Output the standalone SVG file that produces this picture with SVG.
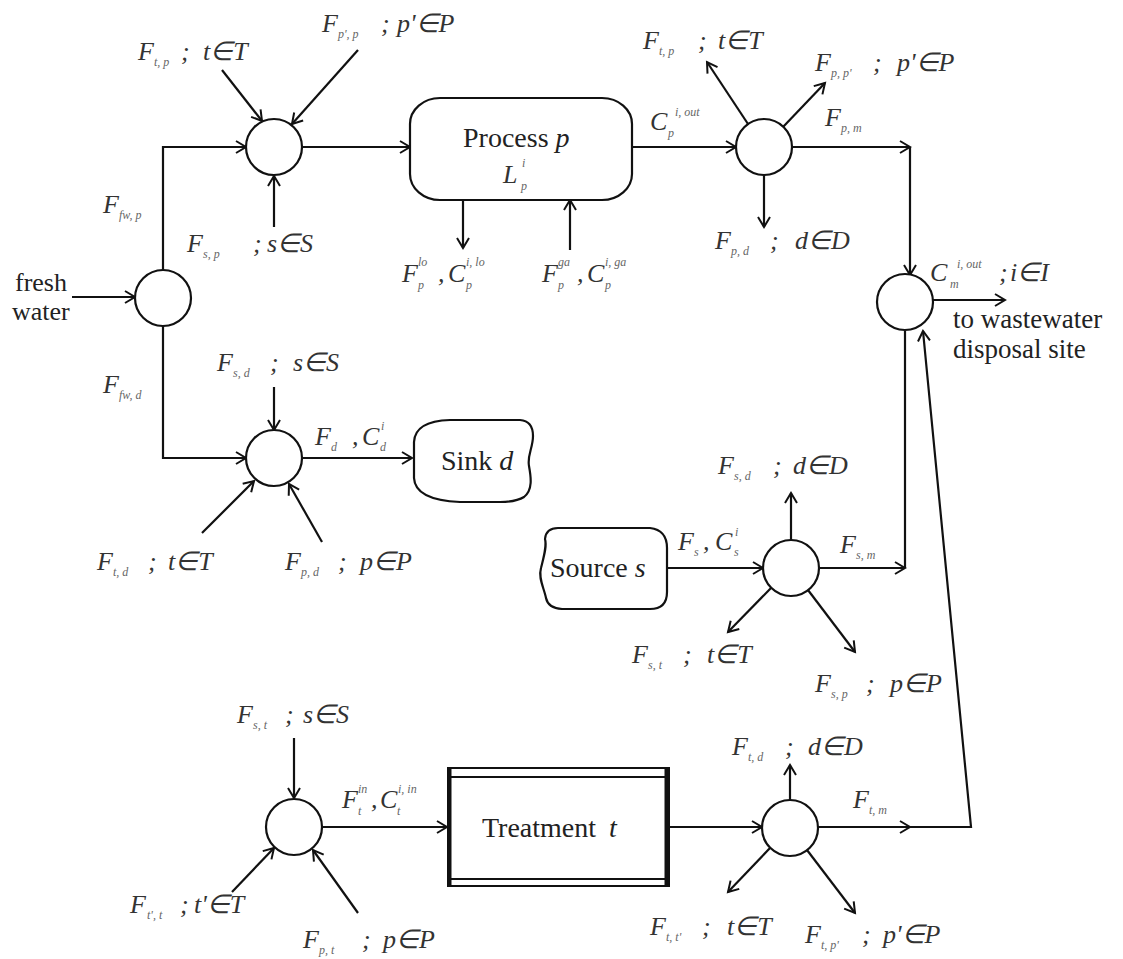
<svg xmlns="http://www.w3.org/2000/svg" width="1123" height="959" viewBox="0 0 1123 959">
<defs>
<marker id="a" markerUnits="userSpaceOnUse" markerWidth="16" markerHeight="16" refX="12" refY="8" orient="auto"><path d="M2,2 L12,8 L2,14" fill="none" stroke="#111" stroke-width="2"/></marker>
<style>
.n{fill:#fff;stroke:#111;stroke-width:2.2}
.c{fill:none;stroke:#111;stroke-width:2.2}
.ca{fill:none;stroke:#111;stroke-width:2.2;marker-end:url(#a)}
.m{font-family:"Liberation Serif",serif;font-style:italic;font-size:26px;fill:#333}
.s{font-family:"Liberation Serif",serif;font-style:italic;font-size:12px;fill:#666}
.r{font-family:"Liberation Serif",serif;font-size:26px;fill:#222}
.b{font-family:"Liberation Serif",serif;font-size:28px;fill:#222}
.bi{font-family:"Liberation Serif",serif;font-style:italic;font-size:28px;fill:#222}
</style>
</defs>
<rect width="1123" height="959" fill="#fff"/>

<g id="connectors">
<path class="ca" d="M72,297 L135,297"/>
<path class="ca" d="M163,270 L163,147 L246,147"/>
<path class="ca" d="M222,70 L262,121"/>
<path class="ca" d="M358,50 L292,124"/>
<path class="ca" d="M274,227 L274,176"/>
<path class="ca" d="M302,147 L410,147"/>
<path class="ca" d="M463,200 L463,248"/>
<path class="ca" d="M570,250 L570,200"/>
<path class="ca" d="M632,147 L736,147"/>
<path class="ca" d="M748,124 L707,62"/>
<path class="ca" d="M783,127 L825,83"/>
<path class="ca" d="M764,175 L764,227"/>
<path class="ca" d="M792,147 L910,147"/>
<path class="ca" d="M910,147 L910,275"/>
<path class="ca" d="M933,300 L1005,300"/>
<path class="ca" d="M163,326 L163,458 L246,458"/>
<path class="ca" d="M274,387 L274,430"/>
<path class="ca" d="M202,533 L254,481"/>
<path class="ca" d="M322,542 L289,484"/>
<path class="ca" d="M302,458 L412,458"/>
<path class="ca" d="M668,568 L763,568"/>
<path class="ca" d="M791,540 L791,493"/>
<path class="ca" d="M771,588 L728,632"/>
<path class="ca" d="M808,590 L855,652"/>
<path class="ca" d="M819,568 L905,568"/>
<path class="c" d="M905,568 L905,331"/>
<path class="ca" d="M294,738 L294,798"/>
<path class="ca" d="M322,827 L447,827"/>
<path class="ca" d="M232,892 L274,848"/>
<path class="ca" d="M358,913 L313,850"/>
<path class="ca" d="M670,827 L762,827"/>
<path class="ca" d="M790,800 L790,765"/>
<path class="ca" d="M770,848 L728,892"/>
<path class="ca" d="M807,850 L855,913"/>
<path class="ca" d="M818,827 L910,827"/>
<path class="ca" d="M910,827 L971,827 L923,331"/>
</g>

<g id="fresh-water-splitter"><circle class="n" cx="163" cy="298" r="28"/></g>
<g id="process-mixer"><circle class="n" cx="274" cy="147" r="28"/></g>
<g id="process-splitter"><circle class="n" cx="764" cy="147" r="28"/></g>
<g id="wastewater-mixer"><circle class="n" cx="905" cy="302" r="28"/></g>
<g id="sink-mixer"><circle class="n" cx="274" cy="458" r="28"/></g>
<g id="source-splitter"><circle class="n" cx="791" cy="568" r="28"/></g>
<g id="treatment-mixer"><circle class="n" cx="294" cy="827" r="28"/></g>
<g id="treatment-splitter"><circle class="n" cx="790" cy="828" r="28"/></g>

<g id="process">
<rect class="n" x="410" y="98" width="222" height="102" rx="30" ry="26"/>
<text class="b" x="463" y="147">Process <tspan class="bi">p</tspan></text>
<text class="m" x="503" y="183">L</text><text class="s" x="521" y="190">p</text><text class="s" x="522" y="167">i</text>
</g>

<g id="sink">
<path class="n" d="M450,420 L520,420 Q533,421 533,436 C533,448 527,455 529,466 C531,477 533,490 524,497 Q516,502 500,502 L460,502 Q415,500 414,478 L414,442 Q415,421 450,420 Z"/>
<text class="b" x="441" y="470">Sink <tspan class="bi">d</tspan></text>
</g>

<g id="source">
<path class="n" d="M558,528 L650,528 Q667,530 667,548 L667,592 Q667,609 650,609 L562,609 Q548,608 546,598 C544,588 538,578 541,568 C544,556 547,546 545,539 Q546,528 558,528 Z"/>
<text class="b" x="550" y="577">Source <tspan class="bi">s</tspan></text>
</g>

<g id="treatment">
<rect x="448" y="768" width="221" height="118" fill="#fff" stroke="#111" stroke-width="2"/>
<line x1="448" y1="777" x2="669" y2="777" stroke="#111" stroke-width="2"/>
<line x1="448" y1="879" x2="669" y2="879" stroke="#111" stroke-width="2"/>
<line x1="449.5" y1="768" x2="449.5" y2="886" stroke="#111" stroke-width="4"/>
<line x1="667" y1="768" x2="667" y2="886" stroke="#111" stroke-width="5"/>
<text class="b" x="482" y="837">Treatment</text><text class="bi" x="609" y="837">t</text>
</g>

<g id="labels">
<text class="r" x="15" y="291">fresh</text>
<text class="r" x="12" y="320">water</text>
<text class="r" x="953" y="328" style="font-size:27px">to wastewater</text>
<text class="r" x="953" y="358" style="font-size:27px">disposal site</text>

<text class="m" x="138" y="60">F</text><text class="s" x="154" y="66">t, p</text><text class="m" x="181" y="60">;</text><text class="m" x="203" y="60">t∈T</text>
<text class="m" x="322" y="32">F</text><text class="s" x="338" y="38">p', p</text><text class="m" x="381" y="32">;</text><text class="m" x="397" y="32">p'∈P</text>
<text class="m" x="103" y="213">F</text><text class="s" x="119" y="219">fw, p</text>
<text class="m" x="187" y="252">F</text><text class="s" x="203" y="258">s, p</text><text class="m" x="253" y="252">;</text><text class="m" x="267" y="252">s∈S</text>

<text class="m" x="402" y="282">F</text><text class="s" x="418" y="266">lo</text><text class="s" x="418" y="289">p</text><text class="m" x="438" y="282">,</text><text class="m" x="448" y="282">C</text><text class="s" x="466" y="266">i, lo</text><text class="s" x="466" y="289">p</text>
<text class="m" x="542" y="282">F</text><text class="s" x="558" y="266">ga</text><text class="s" x="558" y="289">p</text><text class="m" x="577" y="282">,</text><text class="m" x="587" y="282">C</text><text class="s" x="605" y="266">i, ga</text><text class="s" x="605" y="289">p</text>

<text class="m" x="650" y="130">C</text><text class="s" x="675" y="116">i, out</text><text class="s" x="668" y="137">p</text>
<text class="m" x="643" y="49">F</text><text class="s" x="659" y="55">t, p</text><text class="m" x="698" y="49">;</text><text class="m" x="718" y="49">t∈T</text>
<text class="m" x="815" y="71">F</text><text class="s" x="831" y="77">p, p'</text><text class="m" x="873" y="71">;</text><text class="m" x="897" y="71">p'∈P</text>
<text class="m" x="825" y="126">F</text><text class="s" x="841" y="132">p, m</text>
<text class="m" x="715" y="249">F</text><text class="s" x="731" y="255">p, d</text><text class="m" x="770" y="249">;</text><text class="m" x="795" y="249">d∈D</text>
<text class="m" x="930" y="281">C</text><text class="s" x="957" y="268">i, out</text><text class="s" x="950" y="288">m</text><text class="m" x="999" y="281">;</text><text class="m" x="1010" y="281">i∈I</text>

<text class="m" x="103" y="393">F</text><text class="s" x="119" y="399">fw, d</text>
<text class="m" x="217" y="371">F</text><text class="s" x="233" y="377">s, d</text><text class="m" x="270" y="371">;</text><text class="m" x="293" y="371">s∈S</text>
<text class="m" x="315" y="445">F</text><text class="s" x="331" y="451">d</text><text class="m" x="352" y="445">,</text><text class="m" x="362" y="445">C</text><text class="s" x="381" y="430">i</text><text class="s" x="380" y="451">d</text>
<text class="m" x="97" y="570">F</text><text class="s" x="113" y="576">t, d</text><text class="m" x="148" y="570">;</text><text class="m" x="168" y="570">t∈T</text>
<text class="m" x="285" y="570">F</text><text class="s" x="301" y="576">p, d</text><text class="m" x="338" y="570">;</text><text class="m" x="360" y="570">p∈P</text>

<text class="m" x="718" y="474">F</text><text class="s" x="734" y="480">s, d</text><text class="m" x="773" y="474">;</text><text class="m" x="793" y="474">d∈D</text>
<text class="m" x="678" y="550">F</text><text class="s" x="694" y="556">s</text><text class="m" x="703" y="550">,</text><text class="m" x="715" y="550">C</text><text class="s" x="735" y="536">i</text><text class="s" x="734" y="556">s</text>
<text class="m" x="840" y="553">F</text><text class="s" x="856" y="559">s, m</text>
<text class="m" x="632" y="663">F</text><text class="s" x="648" y="669">s, t</text><text class="m" x="683" y="663">;</text><text class="m" x="707" y="663">t∈T</text>
<text class="m" x="815" y="692">F</text><text class="s" x="831" y="698">s, p</text><text class="m" x="866" y="692">;</text><text class="m" x="890" y="692">p∈P</text>

<text class="m" x="237" y="723">F</text><text class="s" x="253" y="729">s, t</text><text class="m" x="285" y="723">;</text><text class="m" x="303" y="723">s∈S</text>
<text class="m" x="342" y="808">F</text><text class="s" x="358" y="793">in</text><text class="s" x="358" y="815">t</text><text class="m" x="371" y="808">,</text><text class="m" x="380" y="808">C</text><text class="s" x="398" y="793">i, in</text><text class="s" x="397" y="815">t</text>
<text class="m" x="130" y="913">F</text><text class="s" x="147" y="919">t', t</text><text class="m" x="180" y="913">;</text><text class="m" x="194" y="913">t'∈T</text>
<text class="m" x="303" y="948">F</text><text class="s" x="319" y="954">p, t</text><text class="m" x="362" y="948">;</text><text class="m" x="383" y="948">p∈P</text>

<text class="m" x="732" y="755">F</text><text class="s" x="748" y="761">t, d</text><text class="m" x="785" y="755">;</text><text class="m" x="808" y="755">d∈D</text>
<text class="m" x="853" y="808">F</text><text class="s" x="869" y="814">t, m</text>
<text class="m" x="650" y="935">F</text><text class="s" x="666" y="941">t, t'</text><text class="m" x="702" y="935">;</text><text class="m" x="727" y="935">t∈T</text>
<text class="m" x="805" y="943">F</text><text class="s" x="821" y="949">t, p'</text><text class="m" x="862" y="943">;</text><text class="m" x="883" y="943">p'∈P</text>
</g>
</svg>
